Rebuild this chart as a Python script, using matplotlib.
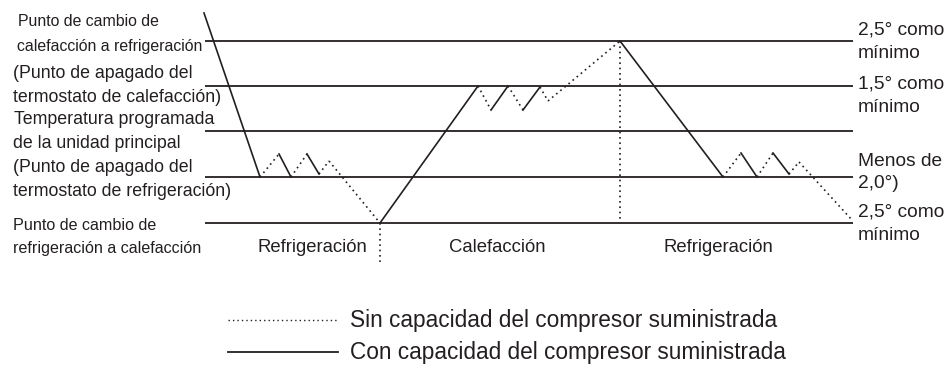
import matplotlib
matplotlib.use('Agg')
import matplotlib.pyplot as plt

plt.rcParams.update({
    'font.family': ['Liberation Sans', 'DejaVu Sans'],
    'figure.facecolor': 'white',
})

INK = '#231f20'

# threshold levels (pixel rows of the reference drawing)
level_y = [41, 86, 131, 177, 223]
level_x = [205, 853]

# room temperature trace
curve_x = [204, 260, 279, 291, 307, 319, 329, 380, 478, 491, 508, 523, 540,
           548, 620, 723, 741, 757, 773, 789, 799, 852]
curve_y = [13, 177, 154, 177, 154, 174, 161, 223, 86, 110, 86, 110, 87,
           101, 41, 177, 153, 177, 153, 174, 162, 220]
# 1 = compressor running (solid), 0 = no capacity (dotted)
curve_on = [1, 0, 1, 0, 1, 0, 0, 1, 0, 1, 0, 1, 0, 0, 1, 0, 1, 0, 1, 0, 0]

# mode change markers
switch_x = [380, 620]
switch_y0 = [223, 41]
switch_y1 = [264, 222]

left_labels = [
    'Punto de cambio de', 'calefacción a refrigeración',
    '(Punto de apagado del', 'termostato de calefacción)',
    'Temperatura programada', 'de la unidad principal',
    '(Punto de apagado del', 'termostato de refrigeración)',
    'Punto de cambio de', 'refrigeración a calefacción',
]
left_size = [11.4, 11.4, 12.8, 12.8, 12.8, 12.8, 12.8, 12.8, 11.6, 11.6]
left_x = [18, 17, 13, 13, 14, 13, 13, 13, 13, 13]
left_y = [21, 46, 74, 97, 120, 144, 167, 191, 226, 248]

right_labels = ['2,5° como', 'mínimo', '1,5° como', 'mínimo',
                'Menos de', '2,0°)', '2,5° como', 'mínimo']
right_y = [30, 54, 84, 107, 161, 184, 212, 235]

mode_labels = ['Refrigeración', 'Calefacción', 'Refrigeración']
mode_x = [312, 497, 718]
mode_y = 248

legend_labels = ['Sin capacidad del compresor suministrada',
                 'Con capacidad del compresor suministrada']
legend_y = [320, 352]

fig = plt.figure(figsize=(9.51, 3.65), dpi=100)
ax = fig.add_axes([0, 0, 1, 1])
ax.set_xlim(0, 951)
ax.set_ylim(365, 0)
ax.axis('off')

dot = (0, (1.0, 2.2))

for y in level_y:
    ax.plot(level_x, [y, y], color=INK, lw=1.3, solid_capstyle='butt')

for i, on in enumerate(curve_on):
    ax.plot(curve_x[i:i + 2], curve_y[i:i + 2], color=INK, lw=1.2,
            linestyle='-' if on else dot)

for x, y0, y1 in zip(switch_x, switch_y0, switch_y1):
    ax.plot([x, x], [y0, y1], color=INK, lw=1.2, linestyle=dot)

for s, fs, x, y in zip(left_labels, left_size, left_x, left_y):
    ax.text(x, y, s, fontsize=fs, color=INK, ha='left', va='center')

for s, y in zip(right_labels, right_y):
    ax.text(858, y, s, fontsize=13.8, color=INK, ha='left', va='center')

for s, x in zip(mode_labels, mode_x):
    ax.text(x, mode_y, s, fontsize=13.3, color=INK, ha='center', va='center')

ax.plot([228, 337], [legend_y[0]] * 2, color=INK, lw=1.0, linestyle=dot)
ax.plot([228, 338], [legend_y[1]] * 2, color=INK, lw=1.3)
for s, y in zip(legend_labels, legend_y):
    ax.text(350, y, s, fontsize=16.3, color=INK, ha='left', va='center')

fig.savefig('out.png', dpi=100)
